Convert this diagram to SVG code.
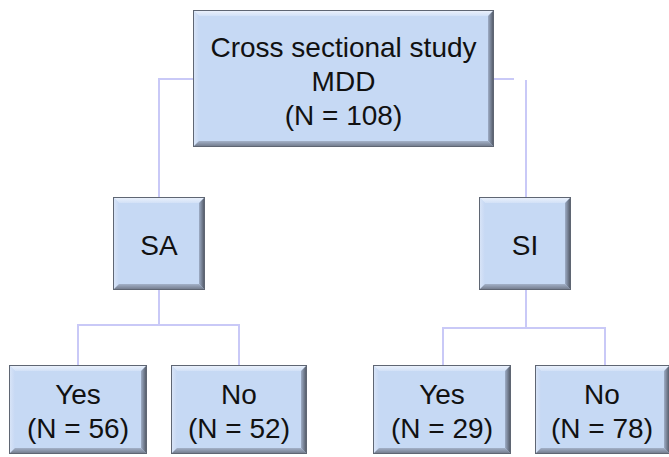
<svg xmlns="http://www.w3.org/2000/svg" width="669" height="457" viewBox="0 0 669 457">
<defs>
<linearGradient id="topG" x1="0" y1="0" x2="0" y2="1"><stop offset="0" stop-color="#eef3fc"/><stop offset="1" stop-color="#d2e1f7"/></linearGradient>
<linearGradient id="botG" x1="0" y1="0" x2="0" y2="1"><stop offset="0" stop-color="#a3b1c8"/><stop offset="1" stop-color="#6d7585"/></linearGradient>
<linearGradient id="rgtG" x1="0" y1="0" x2="1" y2="0"><stop offset="0" stop-color="#9eadc6"/><stop offset="1" stop-color="#4a505c"/></linearGradient>
<linearGradient id="lftG" x1="0" y1="0" x2="1" y2="0"><stop offset="0" stop-color="#dbe6f8"/><stop offset="1" stop-color="#c6d8f3"/></linearGradient>
</defs>
<style>
.face{fill:#c6d9f4;}
.edge{fill:none;stroke:#5f6673;stroke-width:1;}
.lbl{font-family:"Liberation Sans",Arial,sans-serif;font-size:28px;fill:#111;text-anchor:middle;}
.conn{fill:none;stroke:#c9c9f7;stroke-width:2;}
</style>
<rect width="669" height="457" fill="#ffffff"/>
<g id="connectors">
<path class="conn" d="M193,79 H159 V197"/>
<path class="conn" d="M494,79 H514"/>
<path class="conn" d="M526,80 V197"/>
<path class="conn" d="M159,290 V325 H78 V365 M159,325 H239 V365"/>
<path class="conn" d="M526,290 V328 H443 V365 M526,328 H605 V365"/>
</g>
<g id="top">
<rect class="face" x="193" y="10" width="301" height="137"/>
<polygon fill="url(#topG)" points="193,10 494,10 488,16 199,16"/>
<polygon fill="url(#lftG)" points="193,10 199,16 199,141 193,147"/>
<polygon fill="url(#botG)" points="193,147 199,141 488,141 494,147"/>
<polygon fill="url(#rgtG)" points="494,10 494,147 488,141 488,16"/>
<rect class="edge" x="193.5" y="10.5" width="300" height="136"/>
<text class="lbl" x="343.5" y="57">Cross sectional study</text>
<text class="lbl" x="343.5" y="91">MDD</text>
<text class="lbl" x="343.5" y="125">(N = 108)</text>
</g>
<g id="sa">
<rect class="face" x="113" y="197" width="92" height="93"/>
<polygon fill="url(#topG)" points="113,197 205,197 199,203 119,203"/>
<polygon fill="url(#lftG)" points="113,197 119,203 119,284 113,290"/>
<polygon fill="url(#botG)" points="113,290 119,284 199,284 205,290"/>
<polygon fill="url(#rgtG)" points="205,197 205,290 199,284 199,203"/>
<rect class="edge" x="113.5" y="197.5" width="91" height="92"/>
<text class="lbl" x="159" y="255">SA</text>
</g>
<g id="si">
<rect class="face" x="479" y="197" width="92" height="93"/>
<polygon fill="url(#topG)" points="479,197 571,197 565,203 485,203"/>
<polygon fill="url(#lftG)" points="479,197 485,203 485,284 479,290"/>
<polygon fill="url(#botG)" points="479,290 485,284 565,284 571,290"/>
<polygon fill="url(#rgtG)" points="571,197 571,290 565,284 565,203"/>
<rect class="edge" x="479.5" y="197.5" width="91" height="92"/>
<text class="lbl" x="525" y="255">SI</text>
</g>
<g id="sa-yes">
<rect class="face" x="9" y="365" width="138" height="89"/>
<polygon fill="url(#topG)" points="9,365 147,365 141,371 15,371"/>
<polygon fill="url(#lftG)" points="9,365 15,371 15,448 9,454"/>
<polygon fill="url(#botG)" points="9,454 15,448 141,448 147,454"/>
<polygon fill="url(#rgtG)" points="147,365 147,454 141,448 141,371"/>
<rect class="edge" x="9.5" y="365.5" width="137" height="88"/>
<text class="lbl" x="78" y="404">Yes</text>
<text class="lbl" x="78" y="438">(N = 56)</text>
</g>
<g id="sa-no">
<rect class="face" x="171" y="365" width="136" height="89"/>
<polygon fill="url(#topG)" points="171,365 307,365 301,371 177,371"/>
<polygon fill="url(#lftG)" points="171,365 177,371 177,448 171,454"/>
<polygon fill="url(#botG)" points="171,454 177,448 301,448 307,454"/>
<polygon fill="url(#rgtG)" points="307,365 307,454 301,448 301,371"/>
<rect class="edge" x="171.5" y="365.5" width="135" height="88"/>
<text class="lbl" x="239" y="404">No</text>
<text class="lbl" x="239" y="438">(N = 52)</text>
</g>
<g id="si-yes">
<rect class="face" x="373" y="365" width="138" height="89"/>
<polygon fill="url(#topG)" points="373,365 511,365 505,371 379,371"/>
<polygon fill="url(#lftG)" points="373,365 379,371 379,448 373,454"/>
<polygon fill="url(#botG)" points="373,454 379,448 505,448 511,454"/>
<polygon fill="url(#rgtG)" points="511,365 511,454 505,448 505,371"/>
<rect class="edge" x="373.5" y="365.5" width="137" height="88"/>
<text class="lbl" x="442" y="404">Yes</text>
<text class="lbl" x="442" y="438">(N = 29)</text>
</g>
<g id="si-no">
<rect class="face" x="535" y="365" width="135" height="89"/>
<polygon fill="url(#topG)" points="535,365 670,365 664,371 541,371"/>
<polygon fill="url(#lftG)" points="535,365 541,371 541,448 535,454"/>
<polygon fill="url(#botG)" points="535,454 541,448 664,448 670,454"/>
<polygon fill="url(#rgtG)" points="670,365 670,454 664,448 664,371"/>
<rect class="edge" x="535.5" y="365.5" width="134" height="88"/>
<text class="lbl" x="602" y="404">No</text>
<text class="lbl" x="602" y="438">(N = 78)</text>
</g>
</svg>
